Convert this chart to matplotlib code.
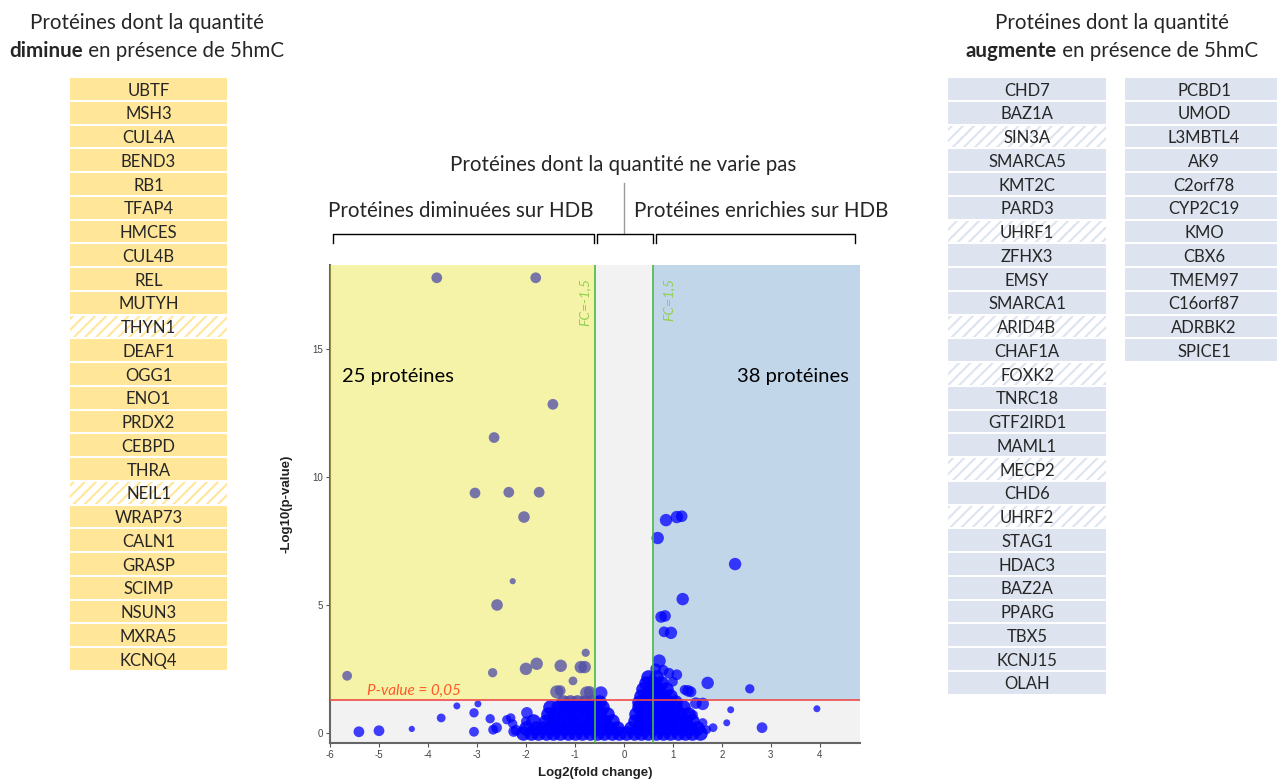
import numpy as np
import matplotlib.pyplot as plt
from matplotlib.patches import Rectangle

plt.rcParams['font.family'] = ['Lato', 'DejaVu Sans']
plt.rcParams['axes.unicode_minus'] = False
plt.rcParams['hatch.linewidth'] = 1.5

## Data
# protein tables
down_prot = ['UBTF', 'MSH3', 'CUL4A', 'BEND3', 'RB1', 'TFAP4', 'HMCES', 'CUL4B', 'REL',
             'MUTYH', 'THYN1', 'DEAF1', 'OGG1', 'ENO1', 'PRDX2', 'CEBPD', 'THRA', 'NEIL1',
             'WRAP73', 'CALN1', 'GRASP', 'SCIMP', 'NSUN3', 'MXRA5', 'KCNQ4']
down_hatched = ['THYN1', 'NEIL1']
up_prot_1 = ['CHD7', 'BAZ1A', 'SIN3A', 'SMARCA5', 'KMT2C', 'PARD3', 'UHRF1', 'ZFHX3', 'EMSY',
             'SMARCA1', 'ARID4B', 'CHAF1A', 'FOXK2', 'TNRC18', 'GTF2IRD1', 'MAML1', 'MECP2',
             'CHD6', 'UHRF2', 'STAG1', 'HDAC3', 'BAZ2A', 'PPARG', 'TBX5', 'KCNJ15', 'OLAH']
up_prot_2 = ['PCBD1', 'UMOD', 'L3MBTL4', 'AK9', 'C2orf78', 'CYP2C19', 'KMO', 'CBX6', 'TMEM97',
             'C16orf87', 'ADRBK2', 'SPICE1']
up_hatched = ['SIN3A', 'UHRF1', 'ARID4B', 'FOXK2', 'MECP2', 'UHRF2']

# volcano: significant, decreased (left)
left_x = [-3.82, -1.80, -1.45, -2.65, -3.04, -2.35, -1.73, -2.04, -2.27, -2.59, -5.65, -0.78,
          -2.68, -2.00, -1.78, -1.29, -0.88, -0.80, -1.04, -1.37, -1.30, -0.76, -0.70]
left_y = [17.8, 17.8, 12.85, 11.55, 9.38, 9.41, 9.41, 8.44, 5.93, 5.0, 2.23, 3.13,
          2.35, 2.5, 2.7, 2.62, 2.57, 2.57, 2.03, 1.6, 1.65, 1.56, 1.6]
left_s = [60, 60, 60, 60, 60, 60, 60, 70, 20, 70, 50, 35,
          45, 80, 80, 80, 80, 80, 40, 90, 60, 90, 70]

# volcano: significant, enriched (right)
right_x = [0.86, 1.08, 1.18, 0.69, 2.27, 1.20, 0.76, 0.84, 0.82, 0.96, 0.72, 1.71, 2.57,
           1.08, 0.92, 1.31, 1.37, 1.24, 0.65, 0.80, 1.00]
right_y = [8.32, 8.44, 8.47, 7.62, 6.6, 5.23, 4.53, 4.57, 3.95, 3.91, 2.81, 1.95, 1.72,
           2.27, 2.33, 1.64, 1.6, 1.68, 2.5, 2.45, 2.0]
right_s = [80, 80, 70, 80, 80, 80, 70, 70, 60, 80, 90, 80, 45,
           60, 60, 70, 60, 50, 60, 60, 50]

# volcano: not significant, isolated points
ns_x = [-5.41, -5.00, -4.33, -3.73, -3.41, -2.98, -3.06, -3.06, -2.73, -2.67, -2.60, -2.39,
        -2.31, -2.27, -1.98, -2.00, -0.47, 1.61, 1.47, 1.41, 2.18, 2.10, 2.82, 3.94, 1.61,
        1.69, 1.82, -2.20, -2.25]
ns_y = [0.04, 0.08, 0.15, 0.58, 1.05, 1.13, 0.78, 0.04, 0.55, 0.12, 0.20, 0.51,
        0.58, 0.35, 0.78, 0.45, 1.56, 1.13, 1.16, 0.70, 0.90, 0.39, 0.20, 0.94, 0.39,
        0.12, 0.20, 0.10, 0.05]
ns_s = [60, 60, 20, 40, 25, 25, 45, 50, 45, 50, 60, 45,
        45, 45, 70, 50, 90, 80, 70, 50, 25, 25, 60, 25, 45,
        40, 40, 60, 60]

# volcano: dense cloud near the origin, read row by row
cloud_levels = [-0.02, 0.2, 0.45, 0.75, 1.0, 1.2, 1.45, 1.7, 1.95, 2.2]
cloud_rows = [
    [-2.05, -1.9, -1.75, -1.6, -1.45, -1.3, -1.15, -1.0, -0.85, -0.7, -0.55, -0.4, -0.25,
     -0.1, 0.05, 0.2, 0.35, 0.5, 0.65, 0.8, 0.95, 1.1, 1.25, 1.4, 1.55],
    [-2.0, -1.8, -1.65, -1.5, -1.35, -1.2, -1.05, -0.9, -0.75, -0.6, -0.45, -0.3, -0.15,
     0.15, 0.3, 0.45, 0.6, 0.75, 0.9, 1.05, 1.2, 1.35, 1.5],
    [-1.85, -1.6, -1.45, -1.3, -1.15, -1.0, -0.85, -0.7, -0.55, -0.4, -0.25, 0.22, 0.35,
     0.5, 0.65, 0.8, 0.95, 1.1, 1.25, 1.4],
    [-1.55, -1.4, -1.25, -1.1, -0.95, -0.8, -0.65, -0.5, -0.35, 0.25, 0.4, 0.55, 0.7, 0.85,
     1.0, 1.15, 1.3],
    [-1.5, -1.35, -1.2, -1.05, -0.9, -0.75, -0.6, -0.45, 0.3, 0.45, 0.6, 0.75, 0.9, 1.05, 1.2],
    [-1.25, -1.1, -0.95, -0.8, -0.65, -0.5, 0.3, 0.45, 0.6, 0.75, 0.9, 1.05],
    [0.35, 0.5, 0.65, 0.8, 0.95],
    [0.4, 0.55, 0.7, 0.85],
    [0.45, 0.6, 0.75],
    [0.5, 0.65],
]

fc_lim = np.log2(1.5)
p_lim = -np.log10(0.05)
x_ticks = [-6, -5, -4, -3, -2, -1, 0, 1, 2, 3, 4]
y_ticks = [0, 5, 10, 15]

down_col = '#ffe699'
up_col = '#dde4f0'
txt_col = '#262626'

## Figure
fig = plt.figure(figsize=(12.77, 7.83), dpi=100)

# full-figure layer in pixel coordinates for tables / headers
bg = fig.add_axes([0, 0, 1, 1])
bg.set_xlim(0, 1277)
bg.set_ylim(783, 0)
bg.axis('off')

row_h = 23.75
tab_top = 78


def draw_table(names, hatched, x0, width, color):
    for i, name in enumerate(names):
        y = tab_top + i * row_h
        if name in hatched:
            bg.add_patch(Rectangle((x0, y), width, row_h - 2, fc='white', ec=color,
                                   hatch='///', lw=0))
        else:
            bg.add_patch(Rectangle((x0, y), width, row_h - 2, fc=color, lw=0))
        bg.text(x0 + width / 2, y + (row_h - 2) / 2 + 1.8, name, ha='center', va='center',
                fontsize=12, color=txt_col)


draw_table(down_prot, down_hatched, 70, 157, down_col)
draw_table(up_prot_1, up_hatched, 948, 158, up_col)
draw_table(up_prot_2, up_hatched, 1125, 158, up_col)

# table headers
hsize = 14.8
bg.text(147, 23, 'Protéines dont la quantité', ha='center', va='center', fontsize=hsize, color=txt_col)
t = bg.text(9, 51, 'diminue', ha='left', va='center', fontsize=hsize, weight='bold', color=txt_col)
bg.annotate(' en présence de 5hmC', xy=(1, 0), xycoords=t, va='bottom', ha='left',
            fontsize=hsize, color=txt_col)
bg.text(1112, 23, 'Protéines dont la quantité', ha='center', va='center', fontsize=hsize, color=txt_col)
t = bg.text(966, 51, 'augmente', ha='left', va='center', fontsize=hsize, weight='bold', color=txt_col)
bg.annotate(' en présence de 5hmC', xy=(1, 0), xycoords=t, va='bottom', ha='left',
            fontsize=hsize, color=txt_col)

# headers above the volcano plot
bg.text(623, 165, 'Protéines dont la quantité ne varie pas', ha='center', va='center',
        fontsize=hsize, color=txt_col)
bg.text(461, 211, 'Protéines diminuées sur HDB', ha='center', va='center', fontsize=hsize, color=txt_col)
bg.text(761, 211, 'Protéines enrichies sur HDB', ha='center', va='center', fontsize=hsize, color=txt_col)
bg.plot([624, 624], [183, 234], color='#999999', lw=1)
for xa, xb in [(333, 594), (597, 653), (656, 855)]:
    bg.plot([xa, xa, xb, xb], [243, 234, 234, 243], color='black', lw=1)

## Volcano plot
ax = fig.add_axes([330 / 1277, 1 - 743 / 783, 530 / 1277, 478 / 783])
ax.set_xlim(-6, 4.82)
ax.set_ylim(-0.4, 18.3)
ax.set_facecolor('#f2f2f2')

ax.add_patch(Rectangle((fc_lim, p_lim), 4.82 - fc_lim, 18.3 - p_lim, fc='#c2d6ea', lw=0, zorder=0.5))
ax.add_patch(Rectangle((-6, p_lim), 6 - fc_lim, 18.3 - p_lim, fc='white', lw=0, zorder=0.5))

cx = [x for row in cloud_rows for x in row]
cy = [lv for lv, row in zip(cloud_levels, cloud_rows) for _ in row]
ax.scatter(cx, cy, s=110, color='#0000ff', alpha=0.85, lw=0, zorder=2)
ax.scatter(ns_x, ns_y, s=ns_s, color='#0000ff', alpha=0.75, lw=0, zorder=2)
ax.scatter(left_x, left_y, s=left_s, color='#0000ff', alpha=0.75, lw=0, zorder=2)
ax.scatter(right_x, right_y, s=right_s, color='#0000ff', alpha=0.75, lw=0, zorder=2)

# yellow veil over the decreased side
ax.add_patch(Rectangle((-6, p_lim), 6 - fc_lim, 18.3 - p_lim, fc='#e4de00', alpha=0.34,
                       lw=0, zorder=3))

ax.axvline(-fc_lim, color='#4cb848', lw=1.2, zorder=4)
ax.axvline(fc_lim, color='#4cb848', lw=1.2, zorder=4)
ax.axhline(p_lim, color='#ee4b4b', lw=1.2, zorder=4)

ax.text(-0.68, 17.8, 'FC=-1,5', rotation=90, ha='right', va='top', style='italic',
        fontsize=10, color='#92d050', zorder=5)
ax.text(0.78, 17.8, 'FC=1,5', rotation=90, ha='left', va='top', style='italic',
        fontsize=10, color='#92d050', zorder=5)
ax.text(-5.24, 1.65, 'P-value = 0,05', ha='left', va='center', style='italic',
        fontsize=11, color='#ff5a28', zorder=5)
ax.text(-5.75, 13.95, '25 protéines', ha='left', va='center', fontsize=14.5, color='black', zorder=5)
ax.text(4.6, 13.95, '38 protéines', ha='right', va='center', fontsize=14.5, color='black', zorder=5)

ax.set_xticks(x_ticks)
ax.set_yticks(y_ticks)
ax.tick_params(length=3, width=0.8, color='#555555', labelsize=7, labelcolor='#444444', pad=2)
for lab in ax.get_xticklabels() + ax.get_yticklabels():
    lab.set_family('Liberation Sans')
for side in ['top', 'right']:
    ax.spines[side].set_visible(False)
for side in ['left', 'bottom']:
    ax.spines[side].set_color('#666666')
    ax.spines[side].set_linewidth(1.5)

ax.set_xlabel('Log2(fold change)', family='Liberation Sans', weight='bold', fontsize=9.5,
              va='center', color='#222222')
ax.xaxis.set_label_coords(0.5, -0.063)
ax.set_ylabel('-Log10(p-value)', family='Liberation Sans', weight='bold', fontsize=9.5,
              va='center', color='#222222')
ax.yaxis.set_label_coords(-0.083, 0.5)

fig.savefig('out.png', dpi=100)
